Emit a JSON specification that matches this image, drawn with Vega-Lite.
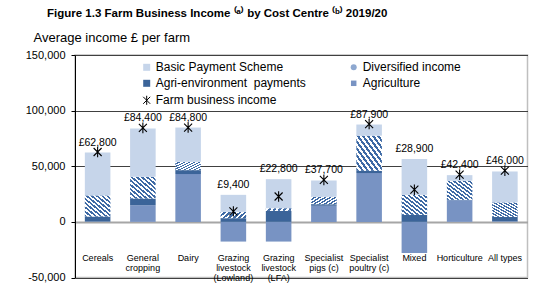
{
  "$schema": "https://vega.github.io/schema/vega-lite/v6.json",
  "width": 452.5,
  "height": 222.5,
  "autosize": {"type": "none"},
  "padding": {"left": 75, "top": 55, "right": 24.5, "bottom": 24.5},
  "config": {
    "font": "Liberation Sans",
    "view": {"stroke": "#bfbfbf", "strokeWidth": 1.5}
  },
  "title": {
    "text": "Figure 1.3 Farm Business Income ⁽ᵃ⁾ by Cost Centre ⁽ᵇ⁾ 2019/20",
    "anchor": "start",
    "frame": "group",
    "dx": -28,
    "offset": 12,
    "fontSize": 11.5,
    "fontWeight": "bold",
    "color": "#000000"
  },
  "data": {
    "values": [
      {"cat": "Cereals", "agri": 300, "ae": 4500, "div": 19000, "bps": 38500, "fbi": 62800},
      {"cat": "General cropping", "agri": 15000, "ae": 6000, "div": 19500, "bps": 43500, "fbi": 84400},
      {"cat": "Dairy", "agri": 43000, "ae": 3500, "div": 7500, "bps": 30800, "fbi": 84800},
      {"cat": "Grazing livestock (Lowland)", "agri": -17700, "ae": 3300, "div": 5700, "bps": 15300, "fbi": 9400},
      {"cat": "Grazing livestock (LFA)", "agri": -17700, "ae": 9900, "div": 2400, "bps": 26100, "fbi": 22800},
      {"cat": "Specialist pigs (c)", "agri": 14400, "ae": 1500, "div": 6600, "bps": 14700, "fbi": 37700},
      {"cat": "Specialist poultry (c)", "agri": 43900, "ae": 2000, "div": 31600, "bps": 10000, "fbi": 87900},
      {"cat": "Mixed", "agri": -28000, "ae": 6300, "div": 18000, "bps": 32200, "fbi": 28900},
      {"cat": "Horticulture", "agri": 19500, "ae": 300, "div": 17200, "bps": 5000, "fbi": 42400},
      {"cat": "All types", "agri": 500, "ae": 4000, "div": 13000, "bps": 27800, "fbi": 46000}
    ]
  },
  "layer": [
    {
      "transform": [
        {"fold": ["agri", "ae", "div", "bps"], "as": ["key", "value"]},
        {"calculate": "indexof(['agri','ae','div','bps'], datum.key)", "as": "ord"}
      ],
      "mark": {"type": "bar"},
      "encoding": {
        "x": {
          "field": "cat", "type": "nominal", "sort": null,
          "scale": {"paddingInner": 0.435, "paddingOuter": 0.2175},
          "axis": {
            "title": null, "domain": false, "ticks": false, "grid": false,
            "labelPadding": -24, "labelBaseline": "top", "labelAngle": 0,
            "labelFontSize": 9, "labelColor": "#000000", "labelLineHeight": 10,
            "labelOverlap": false, "labelLimit": 200,
            "labelExpr": "({'General cropping':['General','cropping'],'Grazing livestock (Lowland)':['Grazing','livestock','(Lowland)'],'Grazing livestock (LFA)':['Grazing','livestock','(LFA)'],'Specialist pigs (c)':['Specialist','pigs (c)'],'Specialist poultry (c)':['Specialist','poultry (c)']})[datum.label] || datum.label",
            "encode": {"labels": {"update": {"dy": {"signal": "datum.value === 'Mixed' ? 5 : 0"}}}}
          }
        },
        "y": {
          "field": "value", "type": "quantitative", "stack": "zero",
          "scale": {"domain": [-50000, 150000], "nice": false},
          "axis": {
            "values": [-50000, 0, 50000, 100000, 150000],
            "labelExpr": "replace(format(datum.value, ','), '−', '-')",
            "title": "Average income £ per farm",
            "titleAngle": 0, "titleAlign": "left", "titleBaseline": "middle",
            "titleX": -42, "titleY": -18,
            "titleFontSize": 13, "titleFontWeight": "normal", "titleColor": "#000000",
            "labelFontSize": 11, "labelColor": "#000000", "labelPadding": 6,
            "tickSize": 4, "tickColor": "#000000", "domainColor": "#000000",
            "grid": true,
            "gridColor": {"condition": {"test": "datum.value === 0", "value": "#a6a6a6"}, "value": "#404040"},
            "gridWidth": {"condition": {"test": "datum.value === 0", "value": 2}, "value": 1}
          }
        },
        "order": {"field": "ord", "type": "quantitative"},
        "color": {
          "field": "key", "type": "nominal",
          "scale": {
            "domain": ["bps", "ae", "fbi", "div", "agri"],
            "range": ["#c6d5ea", "#3b6499", "#000000", "#8ea8d0", "#7893c3"]
          },
          "condition": {
            "test": "datum.key === 'div'",
            "value": {
              "gradient": "linear", "x1": 0, "y1": 1, "x2": 1, "y2": 0,
              "stops": [
                {"offset": 0, "color": "#3e6aa5"}, {"offset": 0.05, "color": "#3e6aa5"}, {"offset": 0.05, "color": "#ffffff"}, {"offset": 0.1, "color": "#ffffff"},
                {"offset": 0.1, "color": "#3e6aa5"}, {"offset": 0.15, "color": "#3e6aa5"}, {"offset": 0.15, "color": "#ffffff"}, {"offset": 0.2, "color": "#ffffff"},
                {"offset": 0.2, "color": "#3e6aa5"}, {"offset": 0.25, "color": "#3e6aa5"}, {"offset": 0.25, "color": "#ffffff"}, {"offset": 0.3, "color": "#ffffff"},
                {"offset": 0.3, "color": "#3e6aa5"}, {"offset": 0.35, "color": "#3e6aa5"}, {"offset": 0.35, "color": "#ffffff"}, {"offset": 0.4, "color": "#ffffff"},
                {"offset": 0.4, "color": "#3e6aa5"}, {"offset": 0.45, "color": "#3e6aa5"}, {"offset": 0.45, "color": "#ffffff"}, {"offset": 0.5, "color": "#ffffff"},
                {"offset": 0.5, "color": "#3e6aa5"}, {"offset": 0.55, "color": "#3e6aa5"}, {"offset": 0.55, "color": "#ffffff"}, {"offset": 0.6, "color": "#ffffff"},
                {"offset": 0.6, "color": "#3e6aa5"}, {"offset": 0.65, "color": "#3e6aa5"}, {"offset": 0.65, "color": "#ffffff"}, {"offset": 0.7, "color": "#ffffff"},
                {"offset": 0.7, "color": "#3e6aa5"}, {"offset": 0.75, "color": "#3e6aa5"}, {"offset": 0.75, "color": "#ffffff"}, {"offset": 0.8, "color": "#ffffff"},
                {"offset": 0.8, "color": "#3e6aa5"}, {"offset": 0.85, "color": "#3e6aa5"}, {"offset": 0.85, "color": "#ffffff"}, {"offset": 0.9, "color": "#ffffff"},
                {"offset": 0.9, "color": "#3e6aa5"}, {"offset": 0.95, "color": "#3e6aa5"}, {"offset": 0.95, "color": "#ffffff"}, {"offset": 1, "color": "#ffffff"}
              ]
            }
          },
          "legend": {
            "title": null,
            "orient": "none", "legendX": 65.7, "legendY": 6.3,
            "columns": 2, "columnPadding": 41, "rowPadding": 4,
            "padding": 0, "symbolSize": 49, "labelOffset": 3,
            "labelFontSize": 12, "labelColor": "#000000", "labelLimit": 300,
            "labelExpr": "({'bps':'Basic Payment Scheme','div':'Diversified income','ae':'Agri-environment\u00a0 payments','agri':'Agriculture','fbi':'Farm business income'})[datum.value]",
            "encode": {
              "symbols": {
                "update": {
                  "shape": {"signal": "datum.value === 'fbi' ? 'M-1,-1L1,1M-1,1L1,-1M0,-1.3L0,1.3' : datum.value === 'div' ? 'circle' : 'square'"},
                  "size": {"signal": "datum.value === 'agri' ? 30 : datum.value === 'div' ? 36 : 49"},
                  "fill": {"signal": "datum.value === 'fbi' ? 'transparent' : datum.value === 'div' ? {gradient: 'linear', x1: 0, y1: 1, x2: 1, y2: 0, stops: [{offset: 0, color: '#3e6aa5'}, {offset: 0.17, color: '#3e6aa5'}, {offset: 0.17, color: '#ffffff'}, {offset: 0.33, color: '#ffffff'}, {offset: 0.33, color: '#3e6aa5'}, {offset: 0.5, color: '#3e6aa5'}, {offset: 0.5, color: '#ffffff'}, {offset: 0.67, color: '#ffffff'}, {offset: 0.67, color: '#3e6aa5'}, {offset: 0.83, color: '#3e6aa5'}, {offset: 0.83, color: '#ffffff'}, {offset: 1, color: '#ffffff'}]} : scale('color', datum.value)"},
                  "stroke": {"signal": "datum.value === 'fbi' ? '#000000' : 'transparent'"},
                  "strokeWidth": {"value": 1},
                  "opacity": {"value": 1}
                }
              }
            }
          }
        }
      }
    },
    {
      "mark": {"type": "point", "shape": "M-1,-1L1,1M-1,1L1,-1M0,-1.3L0,1.3", "size": 64, "filled": false, "color": "#000000", "strokeWidth": 1.1, "opacity": 1},
      "encoding": {
        "x": {"field": "cat", "type": "nominal", "sort": null},
        "y": {"field": "fbi", "type": "quantitative"}
      }
    },
    {
      "transform": [
        {"calculate": "max(datum.agri, 0) + datum.ae + datum.div + datum.bps", "as": "top"},
        {"calculate": "'£' + format(datum.fbi, ',')", "as": "label"}
      ],
      "mark": {"type": "text", "baseline": "bottom", "dy": -5, "fontSize": 10.5, "color": "#000000"},
      "encoding": {
        "x": {"field": "cat", "type": "nominal", "sort": null},
        "y": {"field": "top", "type": "quantitative"},
        "text": {"field": "label", "type": "nominal"}
      }
    }
  ]
}
